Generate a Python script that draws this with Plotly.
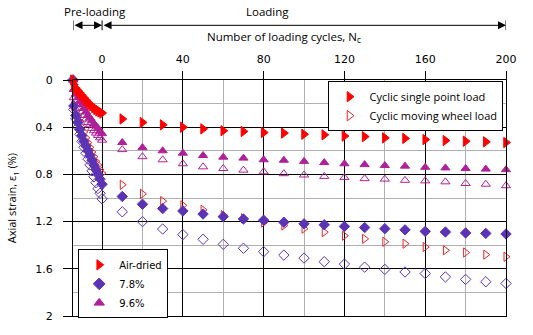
import plotly.graph_objects as go

# ---------------- data ----------------
N_pre = [-14.4, -14, -13, -12, -11, -10, -9, -8, -7, -6, -5, -4, -3, -2, -1, 0]
N_load = [10, 20, 30, 40, 50, 60, 70, 80, 90, 100, 110, 120, 130, 140, 150, 160, 170, 180, 190, 200]

ad_sp_pre = [0, 0.04, 0.07, 0.09, 0.11, 0.13, 0.15, 0.17, 0.19, 0.205, 0.22, 0.235, 0.25, 0.26, 0.27, 0.28]
ad_mw_pre = [0, 0.22, 0.27, 0.31, 0.35, 0.40, 0.44, 0.49, 0.53, 0.57, 0.61, 0.65, 0.69, 0.72, 0.76, 0.79]
m78_sp_pre = [0, 0.22, 0.30, 0.36, 0.42, 0.47, 0.52, 0.56, 0.60, 0.64, 0.68, 0.72, 0.76, 0.80, 0.84, 0.883]
m78_mw_pre = [0, 0.25, 0.33, 0.40, 0.46, 0.52, 0.57, 0.62, 0.67, 0.72, 0.77, 0.82, 0.87, 0.92, 0.96, 1.007]
m96_sp_pre = [0, 0.08, 0.12, 0.15, 0.18, 0.21, 0.24, 0.27, 0.30, 0.32, 0.345, 0.37, 0.39, 0.41, 0.435, 0.455]
m96_mw_pre = [0, 0.15, 0.18, 0.21, 0.24, 0.27, 0.30, 0.33, 0.36, 0.38, 0.41, 0.43, 0.45, 0.47, 0.49, 0.51]

ad_sp = [0.33, 0.36, 0.38, 0.40, 0.414, 0.43, 0.436, 0.445, 0.45, 0.46, 0.465, 0.475, 0.48, 0.49, 0.495, 0.505, 0.513, 0.519, 0.524, 0.53]
ad_mw = [0.888, 0.965, 1.026, 1.062, 1.10, 1.145, 1.172, 1.208, 1.233, 1.26, 1.29, 1.32, 1.346, 1.371, 1.387, 1.415, 1.443, 1.462, 1.48, 1.498]
m78_sp = [0.987, 1.053, 1.09, 1.11, 1.136, 1.158, 1.178, 1.188, 1.205, 1.219, 1.227, 1.241, 1.25, 1.26, 1.27, 1.283, 1.288, 1.296, 1.30, 1.305]
m78_mw = [1.117, 1.2, 1.263, 1.31, 1.35, 1.393, 1.426, 1.455, 1.484, 1.509, 1.54, 1.56, 1.586, 1.605, 1.627, 1.64, 1.669, 1.69, 1.71, 1.724]
m96_sp = [0.53, 0.573, 0.60, 0.62, 0.64, 0.654, 0.662, 0.676, 0.68, 0.69, 0.70, 0.71, 0.717, 0.725, 0.73, 0.74, 0.745, 0.75, 0.755, 0.76]
m96_mw = [0.59, 0.65, 0.676, 0.71, 0.736, 0.75, 0.764, 0.778, 0.794, 0.805, 0.817, 0.827, 0.836, 0.84, 0.85, 0.855, 0.863, 0.877, 0.883, 0.896]

x_ticks = [0, 40, 80, 120, 160, 200]
y_ticks = [0, 0.4, 0.8, 1.2, 1.6, 2]
y_tick_labels = ["0", "0.4", "0.8", "1.2", "1.6", "2"]

# ---------------- style ----------------
RED = "#FF0000"
RED_OPEN = "#E8262A"
PURPLE = "#5B33B5"
MAGENTA = "#AE2199"

fig = go.Figure()

series = [
    (ad_mw_pre, ad_mw, "triangle-right-open", RED_OPEN, 8),
    (m78_mw_pre, m78_mw, "diamond-open", PURPLE, 8),
    (m96_mw_pre, m96_mw, "triangle-up-open", MAGENTA, 8),
    (m78_sp_pre, m78_sp, "diamond", PURPLE, 8),
    (m96_sp_pre, m96_sp, "triangle-up", MAGENTA, 8),
    (ad_sp_pre, ad_sp, "triangle-right", RED, 9),
]
for pre, load, sym, col, sz in series:
    fig.add_trace(go.Scatter(
        x=N_pre + N_load, y=pre + load, mode="markers",
        marker=dict(symbol=sym, color=col, size=sz, line=dict(color=col, width=1)),
        showlegend=False, cliponaxis=False))

# legend-only entries
leg1 = [("Cyclic single point load", "triangle-right", RED),
        ("Cyclic moving wheel load", "triangle-right-open", RED_OPEN)]
for name, sym, col in leg1:
    fig.add_trace(go.Scatter(x=[None], y=[None], mode="markers", name=name,
                             marker=dict(symbol=sym, color=col, size=9, line=dict(color=col, width=1)),
                             legend="legend"))
leg2 = [("Air-dried", "triangle-right", RED),
        ("7.8%", "diamond", PURPLE),
        ("9.6%", "triangle-up", MAGENTA)]
for name, sym, col in leg2:
    fig.add_trace(go.Scatter(x=[None], y=[None], mode="markers", name=name,
                             marker=dict(symbol=sym, color=col, size=9, line=dict(color=col, width=1)),
                             legend="legend2"))

fig.update_layout(
    width=533, height=335,
    margin=dict(l=72.7, r=27.3, t=80, b=13.3),
    paper_bgcolor="white", plot_bgcolor="white",
    font=dict(family="Open Sans", size=11, color="black"),
    legend=dict(x=0.59, y=0.995, xanchor="left", yanchor="top",
                bgcolor="white", bordercolor="black", borderwidth=1,
                font=dict(family="Open Sans", size=11), itemwidth=30,
                tracegroupgap=0),
    legend2=dict(x=0.012, y=-0.01, xanchor="left", yanchor="bottom",
                 bgcolor="white", bordercolor="black", borderwidth=1,
                 font=dict(family="DejaVu Sans", size=10), itemwidth=30),
)

fig.update_xaxes(
    range=[-14.4, 200], side="top",
    tickvals=x_ticks, ticks="outside", ticklen=8, tickcolor="black",
    ticklabelstandoff=4,
    tickfont=dict(family="DejaVu Sans", size=11),
    showgrid=True, gridcolor="black", gridwidth=1,
    minor=dict(dtick=20, tick0=0, showgrid=True, gridcolor="#AFAFAF", gridwidth=1, ticks=""),
    showline=True, linecolor="black", linewidth=1, mirror=True, zeroline=False,
)
fig.update_yaxes(
    range=[2, 0],
    tickvals=y_ticks, ticktext=y_tick_labels, ticks="outside", ticklen=9, tickcolor="black",
    ticklabelstandoff=8,
    tickfont=dict(family="DejaVu Sans", size=11),
    showgrid=True, gridcolor="black", gridwidth=1,
    minor=dict(dtick=0.2, tick0=0, showgrid=True, gridcolor="#AFAFAF", gridwidth=1, ticks=""),
    showline=True, linecolor="black", linewidth=1, mirror=True, zeroline=False,
)

ya = 1 + (80 - 24) / 241.7
annos = [
    dict(x=-3.3, y=1 + (80 - 10) / 241.7, text="Pre-loading"),
    dict(x=82, y=1 + (80 - 10) / 241.7, text="Loading"),
    dict(x=90, y=1 + (80 - 36) / 241.7, text="Number of loading cycles, N<sub>c</sub>"),
]
for a in annos:
    fig.add_annotation(x=a["x"], y=a["y"], xref="x", yref="y domain", text=a["text"],
                       showarrow=False, xanchor="center", yanchor="middle",
                       font=dict(family="Open Sans", size=11.5))

for x0, x1 in [(-14.4, 0), (0, 200)]:
    fig.add_annotation(x=x1, y=ya, xref="x", yref="y domain",
                       ax=x0, ay=ya, axref="x", ayref="y domain",
                       text="", showarrow=True, arrowside="end+start",
                       arrowhead=2, startarrowhead=2, arrowsize=1.6, startarrowsize=1.6,
                       arrowwidth=1, arrowcolor="black")
for xv in [-14.4, 0, 200]:
    fig.add_shape(type="line", xref="x", yref="y domain", x0=xv, x1=xv,
                  y0=ya - 5 / 241.7, y1=ya + 5 / 241.7, line=dict(color="black", width=1))

fig.add_annotation(x=-(72.7 - 12) / 433, y=0.5, xref="paper", yref="paper",
                   text="Axial strain, ε<sub>1</sub> (%)", textangle=-90, showarrow=False,
                   font=dict(family="Open Sans", size=11), xanchor="center", yanchor="middle")

fig.write_html("out.html")
